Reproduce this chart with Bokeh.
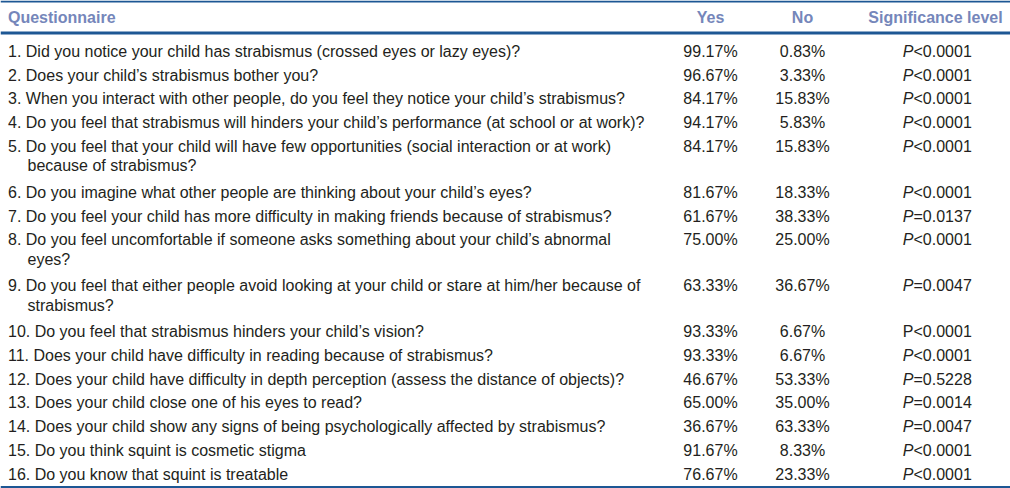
from bokeh.plotting import figure
from bokeh.models import Range1d, ColumnDataSource, Span
from bokeh.core.properties import value
from bokeh.embed import file_html
from bokeh.resources import INLINE

# ---------------- data ----------------
headers = ["Questionnaire", "Yes", "No", "Significance level"]

questions = [
    "1. Did you notice your child has strabismus (crossed eyes or lazy eyes)?",
    "2. Does your child\u2019s strabismus bother you?",
    "3. When you interact with other people, do you feel they notice your child\u2019s strabismus?",
    "4. Do you feel that strabismus will hinders your child\u2019s performance (at school or at work)?",
    "5. Do you feel that your child will have few opportunities (social interaction or at work)\nbecause of strabismus?",
    "6. Do you imagine what other people are thinking about your child\u2019s eyes?",
    "7. Do you feel your child has more difficulty in making friends because of strabismus?",
    "8. Do you feel uncomfortable if someone asks something about your child\u2019s abnormal\neyes?",
    "9. Do you feel that either people avoid looking at your child or stare at him/her because of\nstrabismus?",
    "10. Do you feel that strabismus hinders your child\u2019s vision?",
    "11. Does your child have difficulty in reading because of strabismus?",
    "12. Does your child have difficulty in depth perception (assess the distance of objects)?",
    "13. Does your child close one of his eyes to read?",
    "14. Does your child show any signs of being psychologically affected by strabismus?",
    "15. Do you think squint is cosmetic stigma",
    "16. Do you know that squint is treatable",
]

yes_pct = [99.17, 96.67, 84.17, 94.17, 84.17, 81.67, 61.67, 75.00,
           63.33, 93.33, 93.33, 46.67, 65.00, 36.67, 91.67, 76.67]
no_pct = [0.83, 3.33, 15.83, 5.83, 15.83, 18.33, 38.33, 25.00,
          36.67, 6.67, 6.67, 53.33, 35.00, 63.33, 8.33, 23.33]
sig_symbol = ["P", "P", "P", "P", "P", "P", "P", "P",
              "P", "P", "P", "P", "P", "P", "P", "P"]
sig_rest = ["<0.0001", "<0.0001", "<0.0001", "<0.0001", "<0.0001", "<0.0001",
            "=0.0137", "<0.0001", "=0.0047", "<0.0001", "<0.0001", "=0.5228",
            "=0.0014", "=0.0047", "<0.0001", "<0.0001"]
sig_italic = [True, True, True, True, True, True, True, True,
              True, False, True, True, True, True, True, True]

# ---------------- layout ----------------
FONT = value("Liberation Sans")
FS = "16px"
TXT = "#231f20"
HEAD = "#7586ba"
RULE = "#1d5794"

X_Q = 7.5
X_INDENT = 27
X_YES = 710
X_NO = 802
X_SIG = 913
X_SIG_HEAD = 935

HEADER_Y = 17
FIRST_Y = 50.7
PITCH = 23.8
EXTRA_LINE = 22.0
LINE_GAP = 19.5

W, H = 1010, 488
p = figure(width=W, height=H, output_backend="svg", toolbar_location=None,
           x_range=Range1d(0, W), y_range=Range1d(H, 0),
           x_axis_location=None, y_axis_location=None,
           min_border=0, min_border_left=0, min_border_right=0,
           min_border_top=0, min_border_bottom=0)
p.grid.visible = False
p.outline_line_color = None
p.background_fill_color = "white"
p.border_fill_color = "white"

# rules
p.add_layout(Span(location=1.0, dimension="width", line_color=RULE, line_width=2))
p.add_layout(Span(location=32.5, dimension="width", line_color=RULE, line_width=3))
p.add_layout(Span(location=486.5, dimension="width", line_color=RULE, line_width=2))

# header
hx = [X_Q, X_YES, X_NO, X_SIG_HEAD]
halign = ["left", "center", "center", "center"]
p.text(x=hx, y=[HEADER_Y] * 4, text=headers, text_align=halign,
       text_baseline="middle", text_font=FONT, text_font_size=FS,
       text_font_style="bold", text_color=HEAD)

# rows
qx, qy, qt = [], [], []
row_y = []
y = FIRST_Y
for q in questions:
    lines = q.split("\n")
    row_y.append(y)
    for i, ln in enumerate(lines):
        qx.append(X_Q if i == 0 else X_INDENT)
        qy.append(y + i * LINE_GAP)
        qt.append(ln)
    y += PITCH + EXTRA_LINE * (len(lines) - 1)

p.text(x=qx, y=qy, text=qt, text_align="left", text_baseline="middle",
       text_font=FONT, text_font_size=FS, text_color=TXT)

p.text(x=[X_YES] * len(yes_pct), y=row_y, text=["%.2f%%" % v for v in yes_pct],
       text_align="center", text_baseline="middle",
       text_font=FONT, text_font_size=FS, text_color=TXT)
p.text(x=[X_NO] * len(no_pct), y=row_y, text=["%.2f%%" % v for v in no_pct],
       text_align="center", text_baseline="middle",
       text_font=FONT, text_font_size=FS, text_color=TXT)

src_sig = ColumnDataSource(dict(
    x=[X_SIG] * len(sig_symbol), y=row_y, sym=sig_symbol, rest=sig_rest,
    style=["italic" if it else "normal" for it in sig_italic]))
p.text(x="x", y="y", text="sym", source=src_sig, text_align="right",
       text_baseline="middle", text_font=FONT, text_font_size=FS,
       text_font_style="style", text_color=TXT)
p.text(x="x", y="y", text="rest", source=src_sig, text_align="left",
       text_baseline="middle", text_font=FONT, text_font_size=FS, text_color=TXT)

open("out.html", "w").write(file_html(p, INLINE))
